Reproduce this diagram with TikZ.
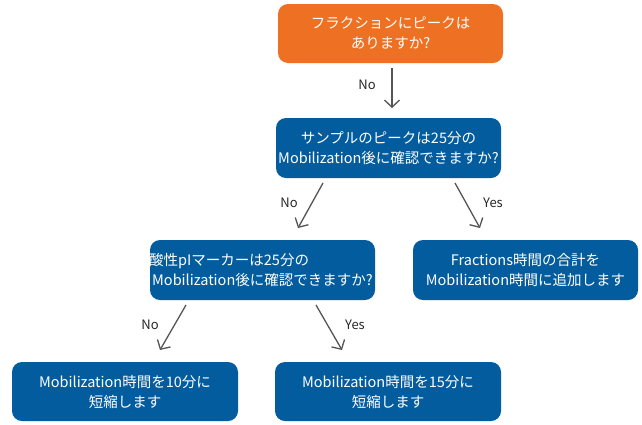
\documentclass[tikz,border=0pt]{standalone}
\usepackage{fontspec}
\setmainfont{Noto Sans CJK JP}
\usetikzlibrary{arrows.meta}
\definecolor{boxorange}{HTML}{EE7023}
\definecolor{boxblue}{HTML}{035C9E}
\definecolor{arrowgray}{HTML}{555555}
\begin{document}
\begin{tikzpicture}[x=1pt,y=-1pt,
  box/.style={fill=boxblue,rounded corners=10pt,draw=none},
  btext/.style={text=white,font=\fontsize{14.5}{20}\selectfont,align=center,inner sep=0pt},
  conn/.style={draw=arrowgray,line width=1.3pt,-{Straight Barb[length=7pt,width=15pt,line width=1.3pt]}},
  lbl/.style={text=black!85,font=\fontsize{13}{15}\selectfont,inner sep=0pt}]
\useasboundingbox (0,0) rectangle (642,424);
% boxes
\fill[box,fill=boxorange] (278,4) rectangle (503,63);
\node[btext] (q1) at (390.5,33.5) {フラクションにピークは\\ありますか?};
\fill[box] (276,118) rectangle (501,178);
\node[btext] (q2) at (388.5,148) {サンプルのピークは25分の\\Mobilization後に確認できますか?};
\fill[box] (150,240) rectangle (375,300);
\node[btext,align=left,anchor=west] (q3) at (149,270) {酸性pIマーカーは25分の\\\hspace*{3pt}Mobilization後に確認できますか?};
\fill[box] (413,240) rectangle (638,300);
\node[btext] (a1) at (525.5,270) {Fractions時間の合計を\\Mobilization時間に追加します};
\fill[box] (12,362) rectangle (238,421);
\node[btext] (a2) at (125,391.5) {Mobilization時間を10分に\\短縮します};
\fill[box] (275,362) rectangle (501,421);
\node[btext] (a3) at (388,391.5) {Mobilization時間を15分に\\短縮します};
% connectors
\coordinate (s1) at (392,68); \coordinate (e1) at (392,108);
\draw[conn] (s1) -- (e1);
\node[lbl] (n1) at (367,85) {No};
\coordinate (s2) at (323,183); \coordinate (e2) at (298,228);
\draw[conn] (s2) -- (e2);
\node[lbl] (n2) at (289,203) {No};
\coordinate (s3) at (455,183); \coordinate (e3) at (480,228);
\draw[conn] (s3) -- (e3);
\node[lbl] (y3) at (493,203) {Yes};
\coordinate (s4) at (186,305); \coordinate (e4) at (160,350);
\draw[conn] (s4) -- (e4);
\node[lbl] (n4) at (150,325) {No};
\coordinate (s5) at (316,305); \coordinate (e5) at (342,350);
\draw[conn] (s5) -- (e5);
\node[lbl] (y5) at (355,325) {Yes};
\end{tikzpicture}
\end{document}
